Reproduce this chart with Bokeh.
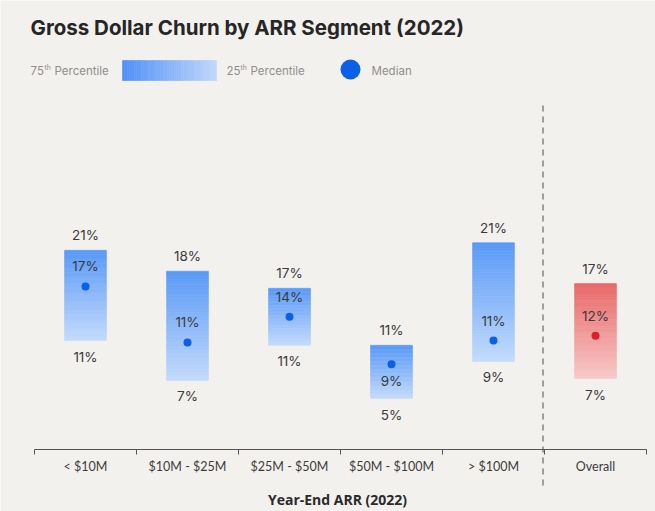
from bokeh.plotting import figure
from bokeh.models import ColumnDataSource, FixedTicker
from bokeh.core.properties import value
from bokeh.embed import file_html
from bokeh.resources import INLINE

# ---------------- data ----------------
segments = ["< $10M", "$10M - $25M", "$25M - $50M", "$50M - $100M", "> $100M", "Overall"]
p75 = [20.6, 18.4, 16.6, 10.6, 21.4, 17.1]
p25 = [11.1, 6.9, 10.6, 5.0, 8.9, 7.1]
median = [16.8, 10.9, 13.6, 8.6, 11.1, 11.6]
highlight = [False, False, False, False, False, True]

# ---------------- layout helpers (page pixel -> data) ----------------
def xd(px):
    return (px - 85) / 102.0

def yd(py):
    return 21 - (py - 246) / 9.5

BG = "#f3f1ee"
W, H = 655, 511
AXIS_Y = 449

p = figure(width=W, height=H, x_range=(xd(0), xd(W)), y_range=(yd(H), yd(0)),
           output_backend="svg", toolbar_location=None, title=None,
           min_border_left=0, min_border_right=0, min_border_top=0, min_border_bottom=0)
p.background_fill_color = BG
p.border_fill_color = BG
p.outline_line_color = None
p.xgrid.visible = False
p.ygrid.visible = False
p.yaxis.visible = False

def mix(c1, c2, t):
    a = [int(c1[i:i + 2], 16) for i in (1, 3, 5)]
    b = [int(c2[i:i + 2], 16) for i in (1, 3, 5)]
    return "#%02x%02x%02x" % tuple(round(a[k] + (b[k] - a[k]) * t) for k in range(3))

BLUE_TOP, BLUE_BOT = "#5899f7", "#c4dbfc"
RED_TOP, RED_BOT = "#e96868", "#f8c9c9"

# ---------------- gradient bars ----------------
N = 40
half = 0.205
L, R, B, T, C = [], [], [], [], []
for i in range(len(segments)):
    top_c, bot_c = (RED_TOP, RED_BOT) if highlight[i] else (BLUE_TOP, BLUE_BOT)
    lo, hi = p25[i], p75[i]
    for k in range(N):
        L.append(i - half); R.append(i + half)
        B.append(lo + (hi - lo) * k / N); T.append(lo + (hi - lo) * (k + 1) / N)
        C.append(mix(bot_c, top_c, (k + 0.5) / N))
p.quad(source=ColumnDataSource(dict(l=L, r=R, b=B, t=T, c=C)),
       left="l", right="r", bottom="b", top="t",
       fill_color="c", line_color="c", line_width=0.6)

# ---------------- median dots ----------------
xs = list(range(len(segments)))
dot_colors = ["#d9222a" if h else "#0b60e8" for h in highlight]
p.scatter(xs, median, size=8, fill_color=dot_colors, line_color=None)

# ---------------- value labels ----------------
FONT = "Inter"
TXT = "#3a3a3a"
lab_src = ColumnDataSource(dict(
    x=xs, top=p75, bot=p25, med=median,
    top_t=[f"{round(v)}%" for v in p75],
    bot_t=[f"{round(v)}%" for v in p25],
    med_t=[f"{round(v)}%" for v in median],
    med_off=[17 if (p75[i] - median[i]) < 2.5 else -20 for i in xs],
))
common = dict(text_font=value(FONT), text_font_size="13.5px", text_color=TXT,
              text_align="center", text_baseline="middle", source=lab_src)
p.text(x="x", y="top", text="top_t", y_offset=-15, **common)
p.text(x="x", y="bot", text="bot_t", y_offset=16, **common)
p.text(x="x", y="med", text="med_t", y_offset="med_off", **common)

# ---------------- title ----------------
p.text(x=[xd(30)], y=[yd(27)], text=["Gross Dollar Churn by ARR Segment (2022)"],
       text_font=value(FONT), text_font_style="bold", text_font_size="20.5px",
       text_color="#262626", text_baseline="middle", text_align="left")

# ---------------- legend ----------------
LG = "#8f8f8f"
leg = dict(text_font=value(FONT), text_color=LG, text_baseline="middle", text_align="left")
p.text(x=[xd(30)], y=[yd(70)], text=["75"], text_font_size="11.5px", **leg)
p.text(x=[xd(44)], y=[yd(67)], text=["th"], text_font_size="7px", **leg)
p.text(x=[xd(54)], y=[yd(70)], text=["Percentile"], text_font_size="11.5px", **leg)
p.text(x=[xd(226)], y=[yd(70)], text=["25"], text_font_size="11.5px", **leg)
p.text(x=[xd(240)], y=[yd(67)], text=["th"], text_font_size="7px", **leg)
p.text(x=[xd(250)], y=[yd(70)], text=["Percentile"], text_font_size="11.5px", **leg)
p.text(x=[xd(371)], y=[yd(70)], text=["Median"], text_font_size="11.5px", **leg)

GN = 40
gx0, gx1 = xd(122), xd(216)
gl, gr, gc = [], [], []
for k in range(GN):
    gl.append(gx0 + (gx1 - gx0) * k / GN)
    gr.append(gx0 + (gx1 - gx0) * (k + 1) / GN)
    gc.append(mix("#5090f7", "#c0d8fb", (k + 0.5) / GN))
p.quad(left=gl, right=gr, bottom=yd(80), top=yd(60), fill_color=gc, line_color=gc, line_width=0.6)
p.scatter([xd(350)], [yd(69)], size=20, fill_color="#0b60e8", line_color=None)

# ---------------- divider ----------------
p.segment(x0=[xd(542.5)], x1=[xd(542.5)], y0=[yd(105)], y1=[yd(488)],
          line_color="#8a8a8a", line_width=1.6, line_dash="6 5")

# ---------------- x axis ----------------
ax = p.xaxis[0]
ax.fixed_location = yd(AXIS_Y)
ax.ticker = FixedTicker(ticks=xs, minor_ticks=[i - 0.5 for i in range(len(segments) + 1)])
ax.major_label_overrides = {i: s for i, s in enumerate(segments)}
ax.bounds = (-0.5, len(segments) - 0.5)
ax.major_tick_out = 0
ax.major_tick_in = 0
ax.minor_tick_out = 5
ax.minor_tick_in = 0
ax.minor_tick_line_color = "#555555"
ax.axis_line_color = "#555555"
ax.axis_line_width = 1.2
ax.major_label_standoff = 4
ax.major_label_text_font = "Lato"
ax.major_label_text_font_size = "12.5px"
ax.major_label_text_color = "#3c3c3c"

p.text(x=[xd(337)], y=[yd(499)], text=["Year-End ARR (2022)"], text_font=value("Open Sans"),
       text_font_style="bold", text_font_size="14px", text_color="#2a2a2a",
       text_align="center", text_baseline="middle")

open("out.html", "w").write(file_html(p, INLINE))
